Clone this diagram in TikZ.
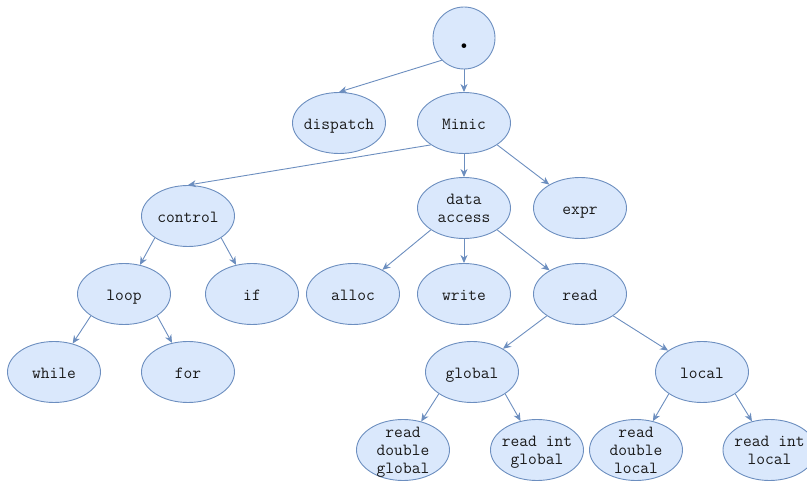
\documentclass[tikz,border=0pt]{standalone}
\usepackage{fontspec}
\usetikzlibrary{shapes.geometric,arrows.meta}
\definecolor{nodefill}{HTML}{DAE8FC}
\definecolor{nodeline}{HTML}{6C8EBF}
\definecolor{txtcol}{HTML}{1A1A1A}
\begin{document}
\begin{tikzpicture}[x=1pt,y=-1pt,
  ell/.style={ellipse, draw=nodeline, fill=nodefill, line width=0.9pt,
    minimum width=93pt, minimum height=61pt, inner sep=0pt},
  txt/.style={font=\ttfamily\fontsize{17}{18}\selectfont, text=txtcol,
    align=center, inner sep=0pt, yshift=-3pt, execute at begin node=\strut},
  edge/.style={draw=nodeline, line width=0.9pt,
    -{Stealth[length=8pt,width=7pt,inset=2.5pt]}}]
\useasboundingbox (0,0) rectangle (807,481);
\clip (0,0) rectangle (807,481);

% root
\node[circle, draw=nodeline, fill=nodefill, line width=0.9pt,
  minimum size=62pt, inner sep=0pt,
  label={[text=black, yshift=-8pt, inner sep=0pt,
    font=\ttfamily\bfseries\fontsize{34}{34}\selectfont]center:.}]
  (root) at (464,38) {};

% level 1
\node[ell, label={[txt]center:dispatch}] (dispatch) at (339,123) {};
\node[ell, label={[txt]center:Minic}] (minic) at (464,123) {};

% level 2
\node[ell, label={[txt]center:control}] (control) at (188,216) {};
\node[ell, label={[txt]center:data\\\strut access}] (data) at (464,208) {};
\node[ell, label={[txt]center:expr}] (expr) at (580,208) {};

% level 3
\node[ell, label={[txt]center:loop}] (loop) at (124,294) {};
\node[ell, label={[txt]center:if}] (if) at (252,294) {};
\node[ell, label={[txt]center:alloc}] (alloc) at (353,294) {};
\node[ell, label={[txt]center:write}] (write) at (464,294) {};
\node[ell, label={[txt]center:read}] (read) at (580,294) {};

% level 4
\node[ell, label={[txt]center:while}] (while) at (54,372) {};
\node[ell, label={[txt]center:for}] (for) at (188,372) {};
\node[ell, label={[txt]center:global}] (global) at (472,372) {};
\node[ell, label={[txt]center:local}] (local) at (702,372) {};

% level 5
\node[ell, label={[txt]center:read\\\strut double\\\strut global}] (rdg) at (403,450) {};
\node[ell, label={[txt]center:read int\\\strut global}] (rig) at (537,450) {};
\node[ell, label={[txt]center:read\\\strut double\\\strut local}] (rdl) at (636,450) {};
\node[ell, label={[txt]center:read int\\\strut local}] (ril) at (769.5,450) {};

% connectors
\draw[edge] (root.south west) -- (dispatch.north);
\draw[edge] (root.south) -- (minic.north);
\draw[edge] (minic.south west) -- (control.north);
\draw[edge] (minic.south) -- (data.north);
\draw[edge] (minic.south east) -- (expr);
\draw[edge] (control.south west) -- (loop);
\draw[edge] (control.south east) -- (if);
\draw[edge] (loop.south west) -- (while);
\draw[edge] (loop.south east) -- (for);
\draw[edge] (data.south west) -- (alloc);
\draw[edge] (data.south) -- (write.north);
\draw[edge] (data.south east) -- (read);
\draw[edge] (read.south west) -- (global);
\draw[edge] (read.south east) -- (local);
\draw[edge] (global.south west) -- (rdg);
\draw[edge] (global.south east) -- (rig);
\draw[edge] (local.south west) -- (rdl);
\draw[edge] (local.south east) -- (ril);
\end{tikzpicture}
\end{document}
